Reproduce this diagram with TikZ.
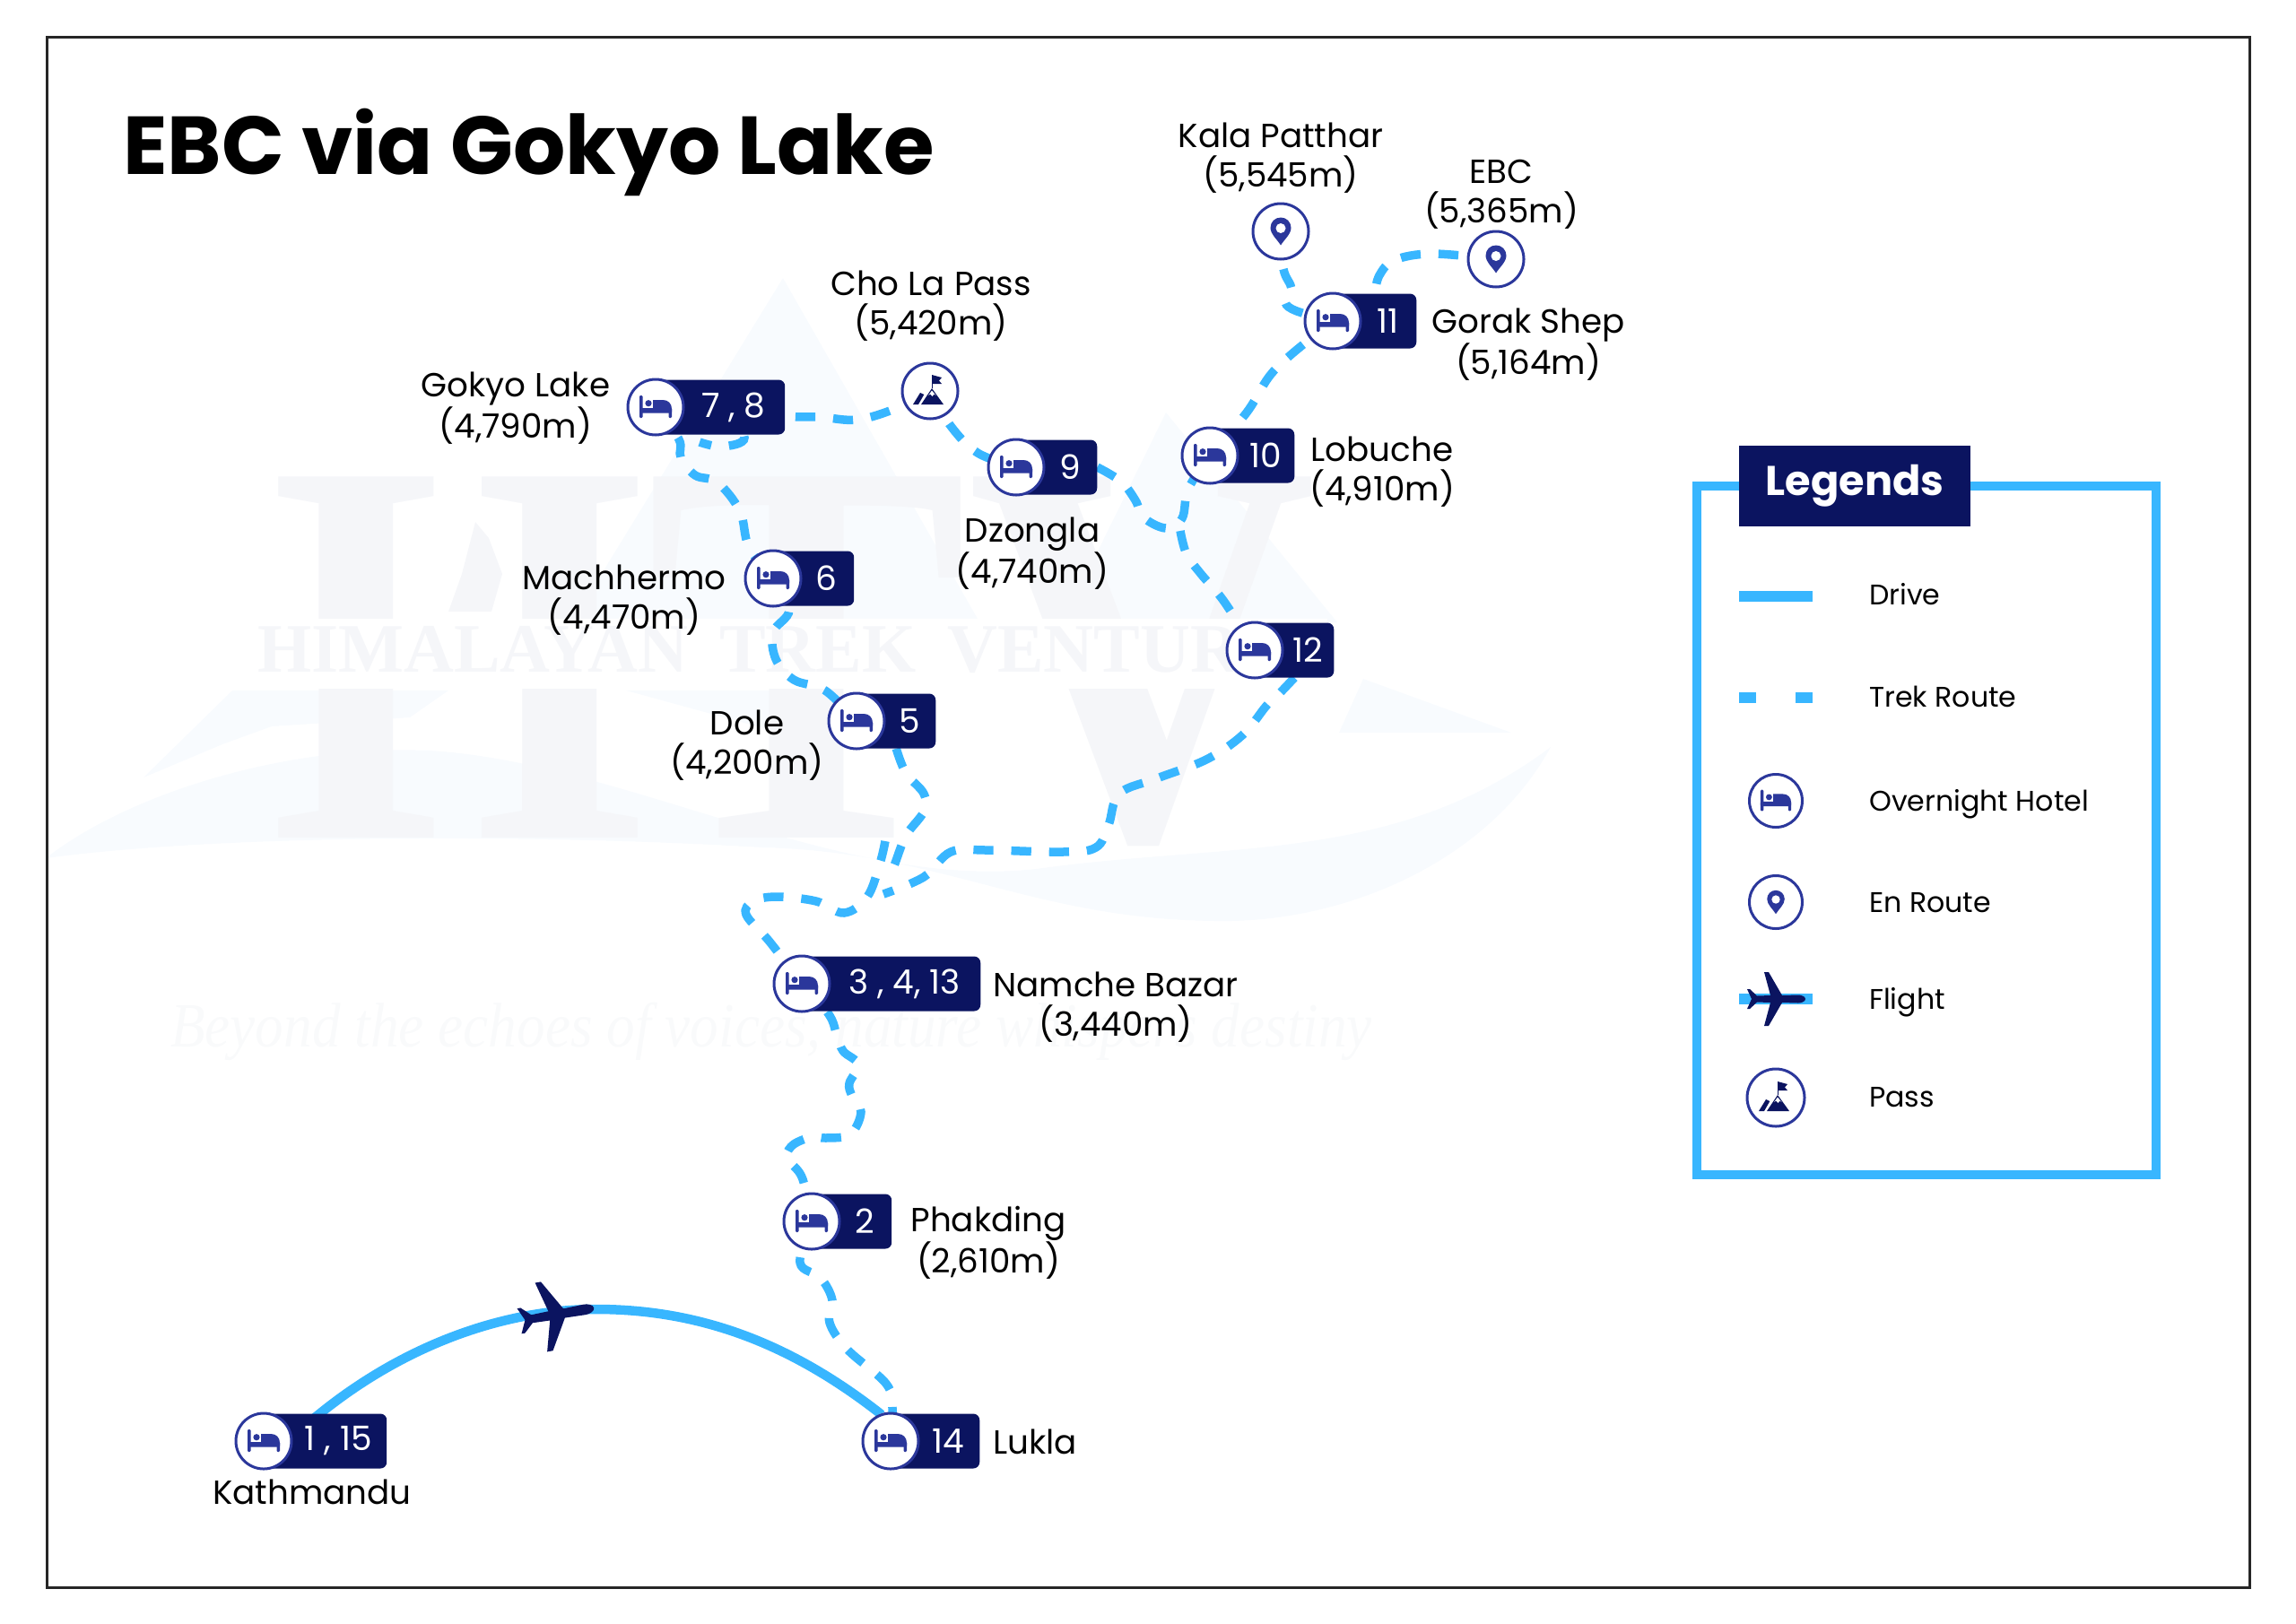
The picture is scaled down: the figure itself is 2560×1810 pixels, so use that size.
\documentclass[tikz,border=0pt]{standalone}
\usepackage{fontspec}
\setmainfont{Poppins}
\newfontfamily\wmfont{Liberation Serif}
\usetikzlibrary{backgrounds}
\definecolor{navy}{HTML}{0B1460}
\definecolor{indigo}{HTML}{2B379B}
\definecolor{skyline}{HTML}{38B6FF}
\definecolor{wmgrey}{HTML}{F5F6F9}
\definecolor{wmblue}{HTML}{F8FBFE}
\tikzset{
	place/.style={align=center, inner sep=0pt, yshift=-3.5pt, text=black, font=\fontsize{31.8}{37.6}\selectfont},
	hotelbar/.style={fill=navy, anchor=west, rounded corners=6pt, minimum height=61*0.03cm, inner sep=0pt, text=white, font=\fontsize{32}{36}\selectfont},
	ring/.style={circle, draw=indigo, line width=3*0.03cm, fill=white, minimum size=62*0.03cm, inner sep=0pt},
	keyring/.style={ring, minimum size=59*0.03cm},
	keytext/.style={anchor=base west, inner sep=0pt, text=black, font=\fontsize{27}{30}\selectfont},
	trekroute/.style={draw=skyline, line width=9.5*0.03cm, dash pattern=on 19pt off 17pt},
	driveline/.style={draw=skyline, line width=10.5*0.03cm},
	bedicon/.pic={
		\fill[indigo, rounded corners=1pt] (-18,-13) rectangle (-14.5,12);
		\fill[indigo, rounded corners=1pt] (-18,1) rectangle (18,6.5);
		\fill[indigo, rounded corners=1pt] (14.5,1) rectangle (18,12);
		\fill[indigo] (-3,2) -- (-3,-8) -- (8,-8) .. controls (14,-8) and (18,-4) .. (18,2) -- cycle;
		\fill[indigo] (-8,-4.3) circle (3.6);
	},
	pinicon/.pic={
		\fill[indigo] (0,15.5) .. controls (-4,9) and (-11.5,3) .. (-11.5,-4) .. controls (-11.5,-10.5) and (-6.4,-15.5) .. (0,-15.5) .. controls (6.4,-15.5) and (11.5,-10.5) .. (11.5,-4) .. controls (11.5,3) and (4,9) .. (0,15.5) -- cycle;
		\fill[white] (0,-3.5) circle (5.5);
	},
	peakicon/.pic={
		\fill[navy] (1.5,-18) rectangle (3,-3);
		\fill[navy] (2,-18) -- (13,-15) -- (10,-11.5) -- (13,-8) -- (2,-8) -- cycle;
		\fill[navy] (2,-3) -- (15,15) -- (-10,15) -- cycle;
		\fill[navy] (-19,15) -- (-11,2) -- (-6.7,4) -- (-13,15) -- cycle;
		\fill[white] (2,-0.5) -- (-2,5) -- (0,3.5) -- (2.5,6) -- (4.5,3.5) -- (6.5,5) -- cycle;
	},
	planeicon/.pic={
		\fill[navy] (33,0) .. controls (33,3) and (28,4.5) .. (25,4.5) -- (7,4) -- (-8,30) -- (-13,30) -- (-6,4) -- (-21,3.5) -- (-29,11) -- (-32,11) -- (-27,0) -- (-32,-11) -- (-29,-11) -- (-21,-3.5) -- (-6,-4) -- (-13,-30) -- (-8,-30) -- (7,-4) -- (25,-4.5) .. controls (28,-4.5) and (33,-3) .. (33,0) -- cycle;
	},
}
\newcommand{\hotel}[5]{
	\node[hotelbar, minimum width=#4*0.03cm] (#1bar) at (#2,#3) {\hspace*{25pt}\raisebox{-2.5pt}{#5}};
	\node[ring] (#1) at (#2,#3) {};
	\pic at (#1) {bedicon};
}
\begin{document}
\begin{tikzpicture}[x=0.03cm, y=-0.03cm]
	\useasboundingbox (0,0) rectangle (2560,1810);
	\node[anchor=base west, inner sep=0pt, font=\fontsize{78.2}{90}\selectfont\bfseries] (title) at (137,194) {EBC via Gokyo Lake};

	\hotel{kathmandu}{294}{1607}{137}{1 , 15}
	\hotel{lukla}{993}{1607}{99}{14}
	\hotel{phakding}{905}{1362}{89}{2}
	\hotel{namche}{894}{1097}{199}{3 , 4, 13}
	\hotel{dole}{955}{804}{88}{5}
	\hotel{machhermo}{862}{645}{90}{6}
	\hotel{gokyo}{731}{454}{144}{7 , 8}
	\hotel{dzongla}{1133}{521}{90}{9}
	\hotel{lobuche}{1349}{508}{94}{10}
	\hotel{gorak}{1486}{358}{93}{11}
	\hotel{ebcreturn}{1399}{725}{88}{12}

	\node[ring] (kala) at (1428,258) {};
	\pic at (kala) {pinicon};
	\node[ring] (ebc) at (1668,289) {};
	\pic at (ebc) {pinicon};
	\node[ring] (chola) at (1037,436) {};
	\pic at (chola) {peakicon};

	\node[place] (kalalabel) at (1428,172) {Kala Patthar\\(5,545m)};
	\node[place] (ebclabel) at (1674,213) {EBC\\(5,365m)};
	\node[place] (cholalabel) at (1038,337) {Cho La Pass\\(5,420m)};
	\node[place] (gokyolabel) at (575,451) {Gokyo Lake\\(4,790m)};
	\node[place] (goraklabel) at (1704,380) {Gorak Shep\\(5,164m)};
	\node[place] (lobuchelabel) at (1541,522) {Lobuche\\(4,910m)};
	\node[place] (dzonglalabel) at (1151,613) {Dzongla\\(4,740m)};
	\node[place] (machhermolabel) at (696,665) {Machhermo\\(4,470m)};
	\node[place] (dolelabel) at (833,827) {Dole\\(4,200m)};
	\node[place] (namchelabel) at (1244,1119) {Namche Bazar\\(3,440m)};
	\node[place] (phakdinglabel) at (1102,1382) {Phakding\\(2,610m)};
	\node[place] (luklalabel) at (1154,1604) {Lukla};
	\node[place] (kathmandulabel) at (348,1660) {Kathmandu};

	\coordinate (split12) at (1316,592);
	\coordinate (splitnamche) at (987,938);
	\coordinate (ktmstart) at (345,1586);
	\node[inner sep=0pt] (flightplane) at (620,1466) {};
	\pic[scale=1.3, rotate=10] at (flightplane) {planeicon};

	\begin{scope}[on background layer]
		\fill[wmblue] (873,310) -- (1090,690) -- (640,690) -- cycle;
		\fill[wmblue] (1300,460) -- (1491,694) -- (1185,694) -- cycle;
		\fill[wmblue] (160,867) -- (259,770) -- (500,770) -- (457,800) -- (303,810) -- (248,830) -- cycle;
		\fill[wmblue] (698,770) -- (900,770) -- (917,830) -- cycle;
		\fill[wmblue] (1520,757) -- (1685,817) -- (1493,817) -- cycle;
		\fill[wmblue] (51,957) .. controls (150,880) and (330,830) .. (479,837) .. controls (700,850) and (950,1000) .. (1170,967) .. controls (1380,940) and (1560,960) .. (1729,833) .. controls (1660,960) and (1500,1030) .. (1355,1027) .. controls (1150,1025) and (1050,950) .. (850,945) .. controls (600,930) and (250,930) .. (51,957) -- cycle;
		\node[inner sep=0pt, text=wmgrey, font=\wmfont\bfseries\fontsize{525}{525}\selectfont, xscale=.875] (wmletters) at (885,738) {HTV};
		\fill[white] (280,690) rectangle (1480,768);
		\node[inner sep=0pt, text=wmgrey, font=\wmfont\bfseries\fontsize{66}{66}\selectfont] (wmname) at (861,725) {HIMALAYAN\hspace{30pt}TREK\hspace{30pt}VENTURE};
		\fill[wmgrey] (530,582) -- (545,600) -- (560,640) -- (548,682) -- (500,682) -- (515,640) -- cycle;
		\node[inner sep=0pt, text=wmgrey!60!white, font=\wmfont\itshape\fontsize{60}{60}\selectfont, xscale=.9] (wmmotto) at (860,1150) {Beyond the echoes of voices, nature whispers destiny};

		\draw[trekroute] plot[smooth, tension=.6] coordinates {(kala) (1431,300) (1440,322) (1433,337) (1446,347) (gorak)};
		\draw[trekroute] plot[smooth, tension=.6] coordinates {(ebc) (1597,283) (1555,290) (1538,307) (gorakbar.north)};
		\draw[trekroute] plot[smooth, tension=.6] coordinates {(gorak) (1440,395) (1415,420) (1390,460) (lobuche)};
		\draw[trekroute] plot[smooth, tension=.6] coordinates {(dzonglabar.east) (1250,537) (1266,558) (1275,577) (1300,589) (1318,578) (1325,545) (lobuche)};
		\draw[trekroute] plot[smooth, tension=.6] coordinates {(split12) (1323,618) (1339,640) (1365,671) (ebcreturn)};
		\draw[trekroute] plot[smooth, tension=.6] coordinates {(ebcreturnbar.south) (1423,777) (1412,787) (1385,820) (1345,847) (1290,868) (1248,885) (1236,920) (1222,945) (1185,950) (1100,948) (1060,950) (1030,978) (985,997)};
		\draw[trekroute] plot[smooth, tension=.6] coordinates {(dolebar.south) (1010,862) (1030,885) (1030,905) (1010,932) (997,965) (992,972)};
		\draw[trekroute] plot[smooth, tension=.6] coordinates {(splitnamche) (981,963) (967,1000) (941,1018) (910,1005) (866,1000) (840,1005) (832,1020) (858,1050) (namche)};
		\draw[trekroute] plot[smooth, tension=.6] coordinates {(namche) (924,1131) (933,1154) (940,1172) (957,1187) (947,1208) (950,1222) (960,1240) (948,1265) (921,1269) (905,1268) (885,1276) (877,1288) (882,1297) (895,1315) (phakding)};
		\draw[trekroute] plot[smooth, tension=.6] coordinates {(phakding) (892,1408) (915,1425) (928,1450) (925,1475) (945,1505) (988,1543) (995,1570) (lukla)};
		\draw[trekroute] plot[smooth, tension=.6] coordinates {(gokyobar) (876,464) (914,465) (956,468) (1000,455) (chola)};
		\draw[trekroute] plot[smooth, tension=.6] coordinates {(chola) (1060,475) (1090,505) (dzongla)};
		\draw[trekroute] plot[smooth, tension=.6] coordinates {(gokyobar) (830,488) (805,498) (780,493)};
		\draw[trekroute] plot[smooth, tension=.6] coordinates {(gokyo) (757,490) (759,510) (775,530) (800,538) (825,570) (835,610) (machhermo)};
		\draw[trekroute] plot[smooth, tension=.6] coordinates {(machhermo) (880,680) (862,705) (865,735) (885,758) (920,770) (dole)};
		\draw[driveline] (ktmstart) .. controls (440,1505) and (555,1460) .. (665,1460) .. controls (790,1460) and (890,1505) .. (981,1576) -- (lukla);
	\end{scope}

	\draw[line width=3*0.03cm, draw=black!85] (52,41) rectangle (2508,1770);

	\draw[draw=skyline, line width=9.5*0.03cm] (1892,542) rectangle (2404,1310);
	\node[fill=navy, text=white, minimum width=258*0.03cm, minimum height=90*0.03cm, inner sep=0pt, font=\fontsize{39.5}{44}\selectfont\bfseries] (legendhead) at (2068,542) {\raisebox{-3pt}{Legends}};
	\coordinate (drivea) at (1939,665);
	\coordinate (driveb) at (2021,665);
	\coordinate (treka) at (1939,778);
	\coordinate (trekb) at (2021,778);
	\coordinate (flighta) at (1939,1114);
	\coordinate (flightb) at (2021,1114);
	\draw[driveline, line width=12*0.03cm] (drivea) -- (driveb);
	\draw[driveline, line width=12*0.03cm, dash pattern=on 19*0.03cm off 44*0.03cm] (treka) -- (trekb);
	\draw[driveline, line width=12*0.03cm] (flighta) -- (flightb);
	\node[keyring] (hotelkey) at (1980,893) {};
	\pic[scale=.95] at (hotelkey) {bedicon};
	\node[keyring] (routekey) at (1980,1006) {};
	\pic[scale=.85] at (routekey) {pinicon};
	\node[inner sep=0pt] (flightkey) at (1980,1114) {};
	\pic at (flightkey) {planeicon};
	\node[keyring, minimum size=64*0.03cm] (passkey) at (1980,1224) {};
	\pic at (passkey) {peakicon};
	\node[keytext] (drivetext) at (2084,674) {Drive};
	\node[keytext] (trektext) at (2084,788) {Trek Route};
	\node[keytext] (hoteltext) at (2084,904) {Overnight Hotel};
	\node[keytext] (routetext) at (2084,1017) {En Route};
	\node[keytext] (flighttext) at (2084,1125) {Flight};
	\node[keytext] (passtext) at (2084,1234) {Pass};
\end{tikzpicture}
\end{document}
